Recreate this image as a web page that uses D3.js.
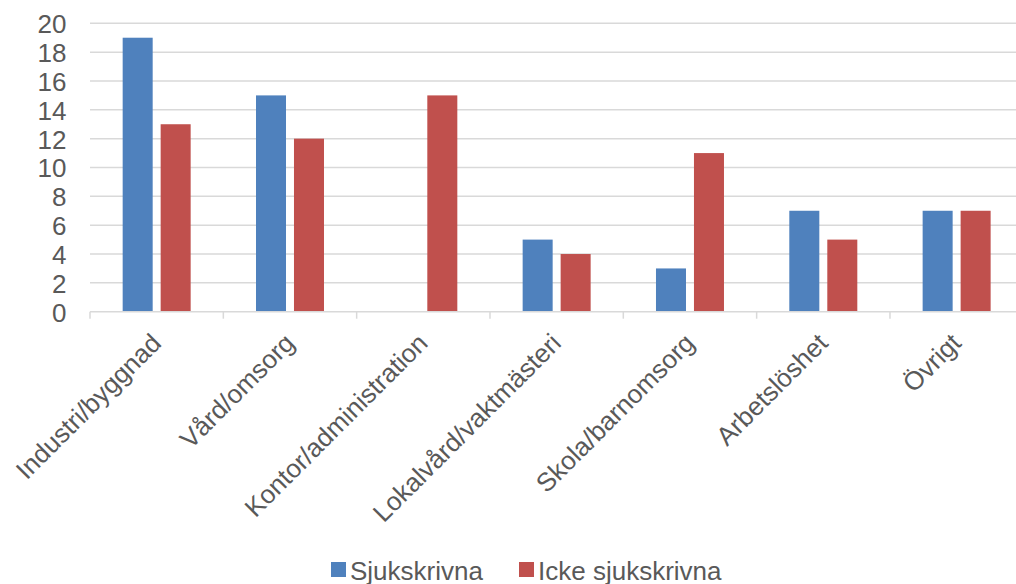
<!DOCTYPE html>
<html>
<head>
<meta charset="utf-8">
<script src="https://cdnjs.cloudflare.com/ajax/libs/d3/7.8.5/d3.min.js"></script>
<style>
  html, body { margin: 0; padding: 0; background: #fff; }
  svg { display: block; font-family: "Liberation Sans", Arial, sans-serif; }
</style>
</head>
<body>
<svg id="chart" width="1016" height="584"></svg>
<script>
// Occupational groups and counts per group
const categories = ["Industri/byggnad", "Vård/omsorg", "Kontor/administration", "Lokalvård/vaktmästeri", "Skola/barnomsorg", "Arbetslöshet", "Övrigt"];
const seriesNames = ["Sjukskrivna", "Icke sjukskrivna"];
const sjukskrivna = [19, 15, 0, 5, 3, 7, 7];
const ickeSjukskrivna = [13, 12, 15, 4, 11, 5, 7];
const yTicks = [0, 2, 4, 6, 8, 10, 12, 14, 16, 18, 20];
const colors = ["#4F81BD", "#C0504D"];

const svg = d3.select("#chart");
const plotLeft = 90, plotRight = 1023.3, plotTop = 23.3, plotBottom = 311.7;
const fontSize = "26px";
const textColor = "#595959";

const x = d3.scaleBand().domain(categories).range([plotLeft, plotRight]).paddingInner(0).paddingOuter(0);
const x1 = d3.scaleBand().domain(seriesNames).range([0, x.bandwidth()]).paddingInner(0.21).paddingOuter(0.86);
const y = d3.scaleLinear().domain([0, 20]).range([plotBottom, plotTop]);

// horizontal gridlines
svg.append("g").selectAll("line").data(yTicks.filter(d => d > 0)).join("line")
  .attr("x1", plotLeft).attr("x2", plotRight)
  .attr("y1", d => y(d)).attr("y2", d => y(d))
  .attr("stroke", "#d9d9d9").attr("stroke-width", 1.5);

// y axis labels
const yAxis = d3.axisLeft(y).tickValues(yTicks).tickSize(0).tickPadding(0);
const gy = svg.append("g").attr("transform", `translate(${66.5},0)`).call(yAxis);
gy.select(".domain").remove();
gy.selectAll("text").attr("fill", textColor).style("font-size", fontSize)
  .style("font-family", "Liberation Sans, Arial, sans-serif").attr("dy", "0.36em");

// bars
const rows = categories.map((c, i) => ({ cat: c, vals: [sjukskrivna[i], ickeSjukskrivna[i]] }));
const groups = svg.append("g").selectAll("g").data(rows).join("g")
  .attr("transform", d => `translate(${x(d.cat)},0)`);
groups.selectAll("rect").data(d => d.vals.map((v, k) => ({ v, k })).filter(o => o.v > 0)).join("rect")
  .attr("x", d => x1(seriesNames[d.k]))
  .attr("width", x1.bandwidth())
  .attr("y", d => y(d.v))
  .attr("height", d => y(0) - y(d.v))
  .attr("fill", d => colors[d.k]);

// category axis line and tick marks
svg.append("line").attr("x1", plotLeft).attr("x2", plotRight).attr("y1", plotBottom).attr("y2", plotBottom)
  .attr("stroke", "#d9d9d9").attr("stroke-width", 1.5);
const boundaries = categories.map(c => x(c)).concat([plotRight]);
svg.append("g").selectAll("line").data(boundaries).join("line")
  .attr("x1", d => d).attr("x2", d => d).attr("y1", plotBottom).attr("y2", plotBottom + 7)
  .attr("stroke", "#d9d9d9").attr("stroke-width", 1.5);

// rotated category labels
svg.append("g").selectAll("text").data(categories).join("text")
  .attr("transform", d => `translate(${x(d) + x.bandwidth() / 2 + 6},${plotBottom + 33}) rotate(-45)`)
  .attr("text-anchor", "end")
  .attr("fill", textColor).style("font-size", fontSize)
  .text(d => d);

// legend
const legendItems = [{ name: seriesNames[0], x: 331 }, { name: seriesNames[1], x: 519 }];
const lg = svg.append("g").selectAll("g").data(legendItems).join("g")
  .attr("transform", d => `translate(${d.x},562)`);
lg.append("rect").attr("width", 15).attr("height", 15).attr("fill", (d, i) => colors[i]);
lg.append("text").attr("x", 19).attr("y", 18).attr("fill", textColor).style("font-size", fontSize).text(d => d.name);
</script>
</body>
</html>
